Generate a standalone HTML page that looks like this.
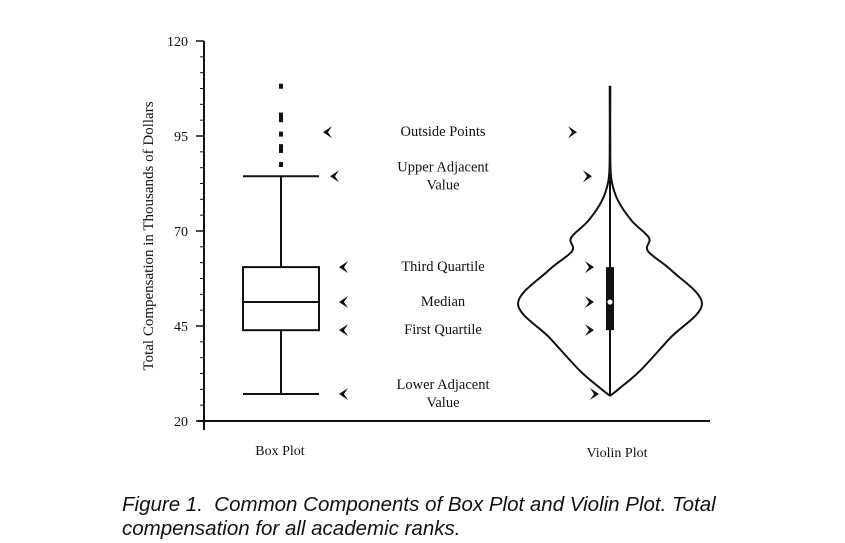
<!DOCTYPE html>
<html><head><meta charset="utf-8"><style>
body{margin:0;background:#fff;width:845px;height:543px;overflow:hidden}
svg text{font-family:"Liberation Serif",serif;fill:#111}
.cap{position:absolute;left:122px;font-family:"Liberation Sans",sans-serif;font-style:italic;font-size:20.5px;color:#111;white-space:nowrap}
</style></head><body>
<svg id="c" width="845" height="543" style="position:absolute;left:0;top:0"></svg>
<div class="cap" style="top:493px">Figure 1.&nbsp; Common Components of Box Plot and Violin Plot. Total</div>
<div class="cap" style="top:517px">compensation for all academic ranks.</div>
<script>
const yTicks=[20,45,70,95,120];
const outliers=[108.1,100.5,99.3,95.5,92.2,91.2,87.5];
const boxStats=[27.1,43.9,51.3,60.5,84.4];
const violinVals=[26.6,28.7,33.2,41.8,50.8,59.5,64.7,68.2,72.6,78,83.4,90,108.2];
const violinHalf=[0,10,30,60,92,62,38,39,22,8,1.5,0.3,0.3];
const NS="http://www.w3.org/2000/svg",svg=document.getElementById('c');
const Y=v=>421-(v-20)*3.8;
function el(t,a,p){const e=document.createElementNS(NS,t);for(const k in a)e.setAttribute(k,a[k]);(p||svg).appendChild(e);return e;}
let e=el('line',{x1:204,y1:41,x2:204,y2:430,stroke:'#111','stroke-width':2});

e=el('line',{x1:198,y1:421,x2:710,y2:421,stroke:'#111','stroke-width':2});

for(let v=20;v<=120.01;v+=25/6){el('line',{x1:200,y1:Y(v),x2:204,y2:Y(v),stroke:'#111','stroke-width':1});}
yTicks.forEach(v=>{el('line',{x1:196,y1:Y(v),x2:204,y2:Y(v),stroke:'#111','stroke-width':1.5});
 const t=el('text',{x:188,y:Y(v)+5,'text-anchor':'end','font-size':14});t.textContent=v;
 });
e=el('text',{x:0,y:0,'font-size':15,'text-anchor':'middle',transform:'translate(153,236) rotate(-90)'});
e.textContent='Total Compensation in Thousands of Dollars';

[['Box Plot',280,455],['Violin Plot',617,457]].forEach(([s,x,y])=>{const t=el('text',{x:x,y:y,'text-anchor':'middle','font-size':14});t.textContent=s;
 });
const bx=281,bw=38;
const g=el('g',{stroke:'#111','stroke-width':2,fill:'none'});

el('line',{x1:bx,y1:Y(boxStats[0]),x2:bx,y2:Y(boxStats[1])},g);
el('line',{x1:bx,y1:Y(boxStats[3]),x2:bx,y2:Y(boxStats[4])},g);
el('line',{x1:bx-bw,y1:Y(boxStats[0]),x2:bx+bw,y2:Y(boxStats[0])},g);
el('line',{x1:bx-bw,y1:Y(boxStats[4]),x2:bx+bw,y2:Y(boxStats[4])},g);
el('rect',{x:bx-bw,y:Y(boxStats[3]),width:2*bw,height:Y(boxStats[1])-Y(boxStats[3])},g);
el('line',{x1:bx-bw,y1:Y(boxStats[2]),x2:bx+bw,y2:Y(boxStats[2])},g);
outliers.forEach(v=>{const c=el('rect',{x:bx-2,y:Y(v)-2.5,width:4,height:5,fill:'#111'});
 });
const vx=610;
const pts=violinVals.map((v,i)=>[violinHalf[i],Y(v)]);
function smooth(sgn){const P=pts.map(p=>[vx+sgn*p[0],p[1]]);let d='M'+P[0][0]+','+P[0][1];
 for(let i=0;i<P.length-1;i++){const p0=P[Math.max(i-1,0)],p1=P[i],p2=P[i+1],p3=P[Math.min(i+2,P.length-1)];
 d+='C'+(p1[0]+(p2[0]-p0[0])/6)+','+(p1[1]+(p2[1]-p0[1])/6)+' '+(p2[0]-(p3[0]-p1[0])/6)+','+(p2[1]-(p3[1]-p1[1])/6)+' '+p2[0]+','+p2[1];}return d;}
e=el('path',{d:smooth(-1),stroke:'#111','stroke-width':2,fill:'none'});

e=el('path',{d:smooth(1),stroke:'#111','stroke-width':2,fill:'none'});

el('line',{x1:vx,y1:Y(violinVals[0]),x2:vx,y2:Y(violinVals[violinVals.length-1]),stroke:'#111','stroke-width':2});
e=el('rect',{x:vx-4,y:Y(boxStats[3]),width:8,height:Y(boxStats[1])-Y(boxStats[3]),fill:'#111'});

e=el('circle',{cx:vx,cy:Y(boxStats[2]),r:2.6,fill:'#fff'});

const ann=[[['Outside Points'],96,327,573],[['Upper Adjacent','Value'],boxStats[4],334,588],[['Third Quartile'],boxStats[3],343,590],[['Median'],boxStats[2],343,590],[['First Quartile'],boxStats[1],343,590],[['Lower Adjacent','Value'],boxStats[0],343,595]];
function arrow(x,y,dir){const p=dir<0?`M${x},${y} L${x+9},${y-6} L${x+5},${y} L${x+9},${y+6}Z`:`M${x},${y} L${x-9},${y-6} L${x-5},${y} L${x-9},${y+6}Z`;return el('path',{d:p,fill:'#111'});}
ann.forEach(([lines,v,lx,rx])=>{const y=Y(v);
 let a=arrow(lx-4,y,-1);
 a=arrow(rx+4,y,1);
 const off=lines.length>1?-5:4;
 lines.forEach((s,i)=>{const t=el('text',{x:443,y:y+off+i*18,'text-anchor':'middle','font-size':14.5});t.textContent=s;
 });});
</script>
</body></html>
